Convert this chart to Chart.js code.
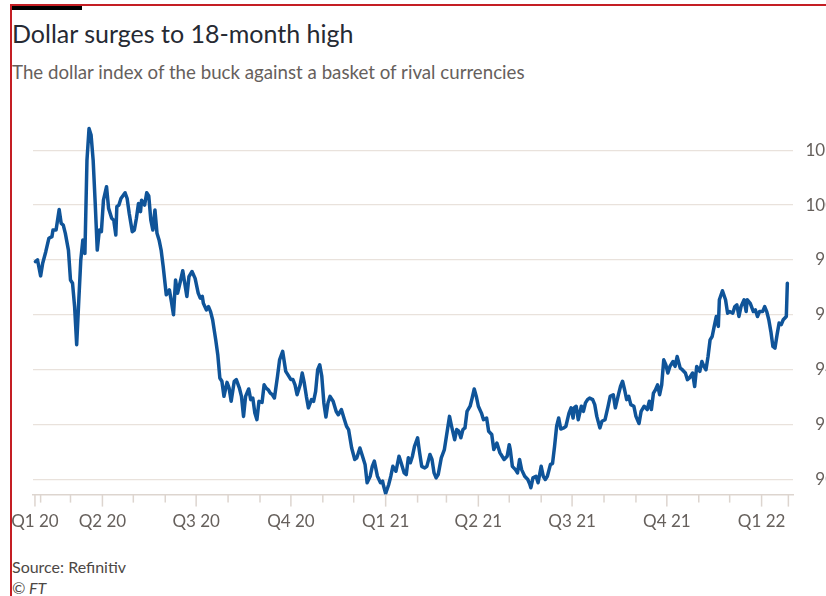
<!DOCTYPE html>
<html>
<head>
<meta charset="utf-8">
<script src="https://cdn.jsdelivr.net/npm/chart.js@4.4.1/dist/chart.umd.min.js"></script>
<style>
  html, body { margin: 0; padding: 0; width: 826px; height: 596px; overflow: hidden; background: #fff; }
  body { position: relative; font-family: Lato, sans-serif; }
  #frame { position: absolute; left: 10px; top: 4px; width: 840px; height: 620px;
           border-left: 2px solid #c41e24; border-top: 2px solid #c41e24; }
  #bar { position: absolute; left: 12px; top: 6px; width: 70px; height: 4px; background: #000; }
  #title { position: absolute; left: 12px; top: 18px; margin: 0; font-size: 25px; font-weight: 400; color: #262a33; }
  #sub { position: absolute; left: 12px; top: 61px; margin: 0; font-size: 18.7px; color: #66605c; }
  #wrap { position: absolute; left: 0; top: 100px; width: 860px; height: 437px; }
  #source { position: absolute; left: 12px; top: 557px; font-size: 16px; color: #4d4845; }
  #ft { position: absolute; left: 12px; top: 578px; font-size: 16px; font-style: italic; color: #4d4845; }
</style>
</head>
<body>
<div id="frame"></div>
<div id="bar"></div>
<h1 id="title">Dollar surges to 18-month high</h1>
<p id="sub">The dollar index of the buck against a basket of rival currencies</p>
<div id="wrap"><canvas id="chart"></canvas></div>
<div id="source">Source: Refinitiv</div>
<div id="ft">© FT</div>

<script>
// days counted from 1 Jan 2020
const days = [
  26, 28, 31, 33, 36, 39, 42, 43, 46, 49, 51, 53, 55, 58, 60, 62, 64, 66, 68, 70,
  72, 74, 76, 78, 80, 82, 84, 86, 88, 90, 92, 95, 97, 100, 102, 104, 105, 107, 109, 113,
  115, 117, 120, 122, 124, 126, 128, 129, 132, 134, 136, 138, 140, 142, 144, 146, 148, 150, 153, 156,
  158, 160, 162, 164, 167, 169, 173, 175, 178, 181, 184, 186, 188, 189, 192, 194, 196, 198, 201, 203,
  205, 207, 209, 212, 214, 216, 219, 221, 224, 226, 228, 230, 233, 235, 237, 239, 241, 243, 246, 248,
  250, 252, 254, 256, 258, 261, 263, 266, 269, 271, 274, 276, 278, 280, 283, 285, 287, 289, 291, 294,
  296, 298, 300, 302, 304, 306, 308, 310, 312, 315, 318, 320, 323, 326, 328, 330, 333, 336, 338, 341,
  343, 346, 348, 351, 353, 355, 358, 361, 363, 364, 366, 369, 371, 373, 376, 379, 381, 384, 386, 388,
  390, 392, 394, 397, 399, 401, 404, 406, 409, 411, 413, 415, 417, 420, 423, 425, 428, 430, 433, 435,
  437, 439, 441, 443, 445, 448, 450, 452, 454, 456, 459, 461, 464, 466, 469, 471, 474, 477, 478, 481,
  484, 486, 487, 489, 492, 494, 496, 498, 501, 504, 506, 507, 509, 512, 514, 517, 519, 521, 523, 526,
  528, 530, 532, 534, 536, 539, 541, 544, 546, 548, 549, 551, 553, 556, 558, 560, 562, 564, 567, 569,
  571, 574, 576, 579, 582, 584, 587, 589, 592, 594, 596, 598, 600, 602, 604, 607, 609, 612, 614, 617,
  620, 622, 624, 626, 628, 630, 632, 634, 636, 638, 640, 642, 645, 647, 649, 652, 654, 657, 659, 661,
  664, 666, 668, 671, 673, 675, 677, 679, 681, 683, 685, 687, 689, 690, 693, 696, 698, 700, 703, 705,
  707, 709, 711, 714, 716, 717, 720, 723, 725, 727, 729, 732, 734, 736, 738, 740, 742, 744, 746, 748,
  750, 752, 755, 756
];

const dollarIndex = [
  97.94, 98.00, 97.42, 97.88, 98.30, 98.79, 98.85, 99.09, 99.09, 99.84, 99.33, 99.27, 98.97, 98.36, 97.27, 97.15, 96.30, 94.91, 96.48, 98.00,
  98.73, 98.24, 101.64, 102.79, 102.55, 101.64, 100.06, 98.36, 99.09, 99.03, 100.18, 100.67, 99.88, 99.52, 99.45, 98.91, 99.94, 100.00, 100.24, 100.45,
  100.24, 99.70, 99.03, 99.09, 99.52, 100.06, 99.76, 100.18, 100.00, 100.45, 100.33, 99.45, 99.09, 99.82, 98.97, 98.73, 98.36, 97.76, 96.73, 96.91,
  96.48, 96.00, 97.27, 96.79, 97.27, 97.61, 96.67, 97.39, 97.58, 97.33, 96.79, 96.61, 96.67, 96.42, 96.18, 96.30, 96.12, 95.82, 95.09, 94.55,
  93.70, 93.58, 93.03, 93.54, 93.33, 92.85, 93.58, 93.64, 93.33, 93.03, 92.30, 93.03, 93.30, 92.91, 92.97, 92.42, 92.18, 92.85, 92.81, 93.45,
  93.33, 93.27, 93.15, 93.09, 92.97, 93.76, 94.36, 94.67, 93.94, 93.82, 93.64, 93.64, 93.45, 93.09, 93.45, 93.88, 93.52, 93.03, 92.61, 92.91,
  92.85, 93.21, 94.00, 94.18, 93.76, 92.79, 92.28, 92.79, 93.03, 92.85, 92.48, 92.36, 92.55, 92.18, 91.94, 91.82, 91.15, 90.73, 90.79, 91.15,
  90.91, 90.55, 89.88, 90.12, 90.48, 90.67, 90.12, 89.88, 89.94, 89.76, 89.49, 89.82, 90.12, 90.48, 90.30, 90.85, 90.61, 90.24, 90.18, 90.79,
  90.61, 90.85, 91.21, 91.52, 90.97, 90.48, 90.42, 90.48, 90.91, 90.73, 90.24, 90.06, 90.18, 90.79, 91.09, 91.58, 92.30, 91.94, 91.45, 91.82,
  91.76, 91.52, 91.82, 91.88, 92.48, 92.67, 92.97, 93.30, 93.03, 92.67, 92.42, 92.18, 92.24, 91.76, 91.64, 91.09, 91.33, 90.97, 90.91, 90.73,
  90.85, 91.27, 91.09, 90.48, 90.36, 90.24, 90.73, 90.36, 90.12, 90.00, 89.82, 89.70, 90.06, 90.12, 89.88, 90.48, 90.12, 90.00, 90.12, 90.55,
  90.58, 91.21, 91.94, 92.24, 91.84, 91.88, 91.94, 92.42, 92.61, 92.24, 92.61, 92.67, 92.18, 92.67, 92.48, 92.79, 92.91, 92.97, 92.91, 92.73,
  92.30, 91.88, 92.12, 92.18, 92.67, 93.03, 93.09, 92.61, 93.09, 93.39, 93.58, 93.27, 92.91, 93.03, 92.73, 92.67, 92.30, 92.04, 92.48, 92.67,
  92.55, 92.85, 92.55, 93.15, 93.27, 93.45, 93.09, 93.45, 94.36, 94.18, 93.88, 94.12, 94.30, 94.12, 94.48, 94.06, 94.00, 93.88, 93.64, 93.70,
  93.88, 93.39, 94.12, 93.94, 94.30, 94.12, 94.00, 94.48, 95.09, 95.21, 95.58, 95.94, 95.58, 96.55, 96.88, 96.55, 96.06, 96.12, 96.06, 96.30,
  96.36, 95.94, 96.30, 96.55, 96.12, 96.55, 96.42, 96.12, 96.18, 95.94, 96.12, 96.12, 96.30, 96.12, 95.82, 95.39, 94.85, 94.79, 95.27, 95.70,
  95.64, 95.82, 95.94, 97.15
];

// x-axis: chart start, month starts, chart end
const tickDays = [25.5, 31, 60, 91, 121, 152, 182, 213, 244, 274, 305, 335, 366, 397, 425,
                  456, 486, 517, 547, 578, 609, 639, 670, 700, 731, 757];
const tickLabels = ['Q1 20', '', '', 'Q2 20', '', '', 'Q3 20', '', '', 'Q4 20', '', '', 'Q1 21', '', '',
                    'Q2 21', '', '', 'Q3 21', '', '', 'Q4 21', '', '', 'Q1 22', ''];
const yTicks = [90, 92, 94, 96, 98, 100, 102];

const axisGrey = '#66605c';
const gridColour = '#e9e2dc';

const tickMarks = {
  id: 'tickMarks',
  afterDraw(chart) {
    const xs = chart.scales.x;
    const ctx = chart.ctx;
    const y0 = chart.chartArea.bottom;
    ctx.save();
    ctx.strokeStyle = '#ddd5cf';
    ctx.lineWidth = 1.5;
    tickDays.forEach((d, i) => {
      const px = xs.getPixelForValue(d);
      const len = (tickLabels[i] || i == tickDays.length - 1) ? 12 : 8;
      ctx.beginPath();
      ctx.moveTo(px, y0);
      ctx.lineTo(px, y0 + len);
      ctx.stroke();
    });
    ctx.restore();
  }
};

Chart.defaults.font.family = 'Lato, sans-serif';

new Chart(document.getElementById('chart'), {
  type: 'line',
  data: {
    datasets: [{
      data: days.map((d, i) => ({ x: d, y: dollarIndex[i] })),
      borderColor: '#0f5499',
      borderWidth: 3.5,
      pointRadius: 0,
      tension: 0,
      borderJoinStyle: 'round',
      borderCapStyle: 'round'
    }]
  },
  options: {
    responsive: true,
    maintainAspectRatio: false,
    animation: false,
    layout: { padding: { left: 33, right: 25, top: 20, bottom: 0 } },
    plugins: { legend: { display: false }, tooltip: { enabled: false } },
    scales: {
      x: {
        type: 'linear',
        min: 23.6,
        max: 761.9,
        afterBuildTicks: (scale) => { scale.ticks = tickDays.map(v => ({ value: v })); },
        grid: { drawOnChartArea: false, drawTicks: true, tickLength: 12, tickColor: 'transparent' },
        border: { display: true, color: '#ddd5cf', width: 1.5 },
        ticks: {
          autoSkip: false,
          maxRotation: 0,
          padding: 5,
          color: axisGrey,
          font: { size: 17 },
          callback: (value, index) => tickLabels[index]
        }
      },
      y: {
        position: 'right',
        min: 89.45,
        max: 103.1,
        afterBuildTicks: (scale) => { scale.ticks = yTicks.map(v => ({ value: v })); },
        grid: { color: gridColour, lineWidth: 1.2, drawTicks: false },
        border: { display: false },
        ticks: {
          crossAlign: 'far',
          padding: 6,
          color: axisGrey,
          font: { size: 17 }
        }
      }
    }
  },
  plugins: [tickMarks]
});
</script>
</body>
</html>
